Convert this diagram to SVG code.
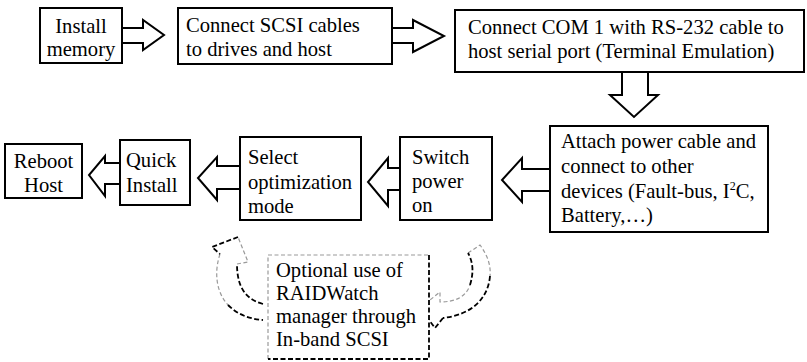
<svg xmlns="http://www.w3.org/2000/svg" width="807" height="362" viewBox="0 0 807 362">
  <style>
    .box { fill: #fff; stroke: #000; stroke-width: 2; }
    .blk { fill: #fff; stroke: #000; stroke-width: 2; stroke-linejoin: miter; }
    .t { font-family: "Liberation Serif", "Times New Roman", serif; font-size: 20.6px; fill: #000; }
    .c { text-anchor: middle; }
    .dg { fill: none; stroke: #9a9a9a; stroke-width: 1.2; stroke-dasharray: 4 2.5; }
    .dk { fill: none; stroke: #000; stroke-width: 1.8; stroke-dasharray: 5 2.5; }
  </style>

  <!-- block arrows between steps -->
  <g id="connectors">
    <polygon class="blk" points="122,28 143,28 143,20 164,35 143,50 143,43 122,43"/>
    <polygon class="blk" points="392,28 413,28 413,20 444,36 413,52 413,43 392,43"/>
    <polygon class="blk" points="622,72 622,95 610,95 634,117 658,95 648,95 648,72"/>
    <polygon class="blk" points="550,169 522,169 522,158 502,180 522,202 522,191 550,191"/>
    <polygon class="blk" points="400,168 388,168 388,158 368,182 388,206 388,190 400,190"/>
    <polygon class="blk" points="240,166 217,166 217,157 198,178 217,200 217,189 240,189"/>
    <polygon class="blk" points="120,163 105,163 105,156 89,175 105,196 105,184 120,184"/>

    <!-- curved dashed arrow: dashed box up towards "Select optimization mode" -->
    <g id="curve-left">
      <path class="dg" d="M220,254 C214,272 216,292 228,305"/>
      <path class="dk" d="M228,305 C238,315 250,319 263,320"/>
      <path class="dk" d="M263,304 C248,300 237,290 237,264"/>
      <path class="dg" d="M237,264 L248,262 L238,237"/>
      <path class="dk" d="M238,237 L212,247 L220,254"/>
    </g>

    <!-- curved dashed arrow: below "Switch power on" into the dashed box -->
    <g id="curve-right">
      <path class="dg" d="M468,253 L480,245 C488,256 491,266 490,276"/>
      <path class="dk" d="M490,276 C488,300 470,315 443,318"/>
      <path class="dk" d="M443,318 L435,328 L420,308"/>
      <path class="dg" d="M420,308 L440,292 L440,302 C455,302 466,297 470,285"/>
      <path class="dk" d="M470,285 C474,272 473,262 468,253"/>
    </g>
  </g>

  <g id="install-memory">
    <rect class="box" x="40" y="8" width="82" height="55"/>
    <text class="t c" x="81" y="33">Install</text>
    <text class="t c" x="81" y="56">memory</text>
  </g>

  <g id="connect-scsi">
    <rect class="box" x="178" y="8" width="214" height="56"/>
    <text class="t" x="186" y="32">Connect SCSI cables</text>
    <text class="t" x="186" y="56">to drives and host</text>
  </g>

  <g id="connect-com1">
    <rect class="box" x="455" y="10" width="349" height="62"/>
    <text class="t" x="468" y="34">Connect COM 1 with RS-232 cable to</text>
    <text class="t" x="468" y="58">host serial port (Terminal Emulation)</text>
  </g>

  <g id="attach-power">
    <rect class="box" x="550" y="126" width="218" height="106"/>
    <text class="t" x="561" y="148">Attach power cable and</text>
    <text class="t" x="561" y="173">connect to other</text>
    <text class="t" x="561" y="198">devices (Fault-bus, I<tspan font-size="12" dy="-8">2</tspan><tspan dy="8">C,</tspan></text>
    <text class="t" x="561" y="222">Battery,…)</text>
  </g>

  <g id="switch-power">
    <rect class="box" x="400" y="137" width="92" height="83"/>
    <text class="t" x="412" y="164">Switch</text>
    <text class="t" x="412" y="188">power</text>
    <text class="t" x="412" y="212">on</text>
  </g>

  <g id="select-mode">
    <rect class="box" x="240" y="137" width="121" height="83"/>
    <text class="t" x="248" y="164">Select</text>
    <text class="t" x="248" y="189">optimization</text>
    <text class="t" x="248" y="213">mode</text>
  </g>

  <g id="quick-install">
    <rect class="box" x="120" y="140" width="70" height="65"/>
    <text class="t" x="126" y="167">Quick</text>
    <text class="t" x="126" y="192">Install</text>
  </g>

  <g id="reboot-host">
    <rect class="box" x="5" y="144" width="77" height="54"/>
    <text class="t c" x="43.5" y="168">Reboot</text>
    <text class="t c" x="43.5" y="192">Host</text>
  </g>

  <g id="raidwatch-option">
    <rect x="268" y="255" width="161" height="104" fill="#fff"/>
    <path class="dg" d="M268,359 L268,255 L429,255"/>
    <path class="dk" d="M429,255 L429,359 L268,359"/>
    <text class="t" x="276" y="277">Optional use of</text>
    <text class="t" x="276" y="300">RAIDWatch</text>
    <text class="t" x="276" y="323">manager through</text>
    <text class="t" x="276" y="346">In-band SCSI</text>
  </g>
</svg>
